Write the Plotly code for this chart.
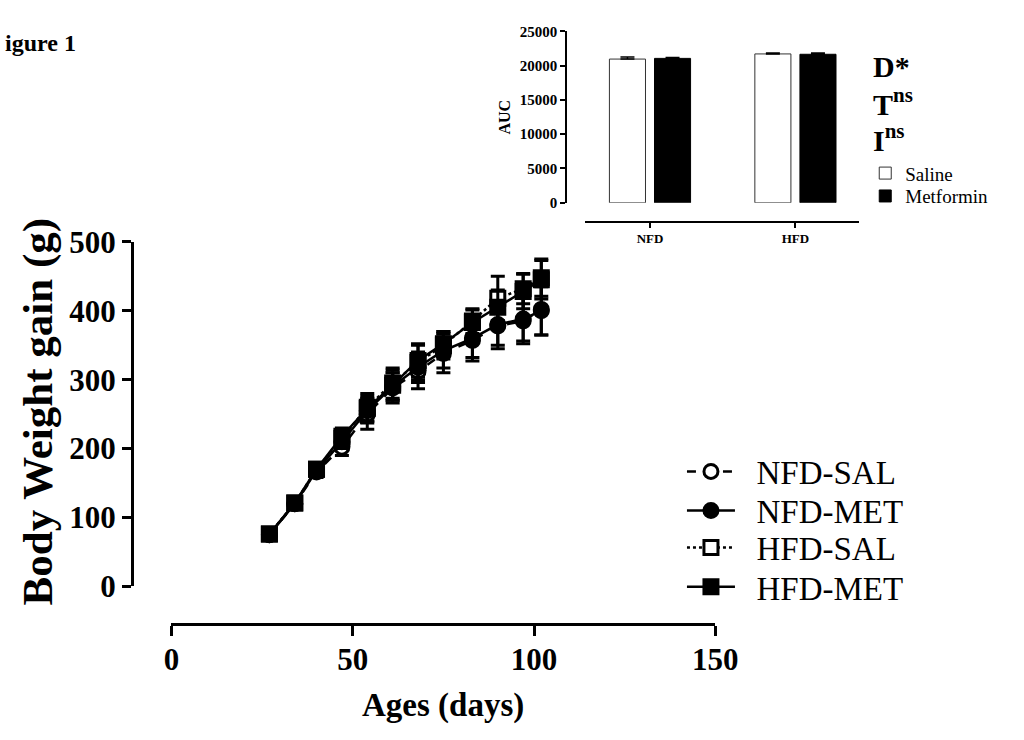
import plotly.graph_objects as go

W, H = 1024, 740
def px(x):
    return x / W
def py(y):
    return 1 - y / H

SERIF = "Liberation Serif, Times New Roman, serif"

# ---------------- data ----------------
ages = [27, 34, 40, 47, 54, 61, 68, 75, 83, 90, 97, 102]
series_names = ["NFD-SAL", "NFD-MET", "HFD-SAL", "HFD-MET"]
nfd_sal = [75, 120, 166, 202, 250, 288, 312, 338, 357, 378, 385, 402]
nfd_sal_err = [4, 5, 8, 12, 22, 22, 25, 28, 30, 33, 33, 37]
nfd_met = [75, 120, 168, 210, 255, 290, 318, 342, 360, 380, 388, 400]
nfd_met_err = [4, 5, 8, 10, 18, 20, 22, 25, 28, 30, 32, 35]
hfd_sal = [76, 121, 170, 215, 260, 295, 325, 350, 385, 418, 432, 448]
hfd_sal_err = [4, 5, 8, 12, 20, 22, 25, 20, 18, 32, 22, 27]
hfd_met = [76, 121, 170, 218, 258, 292, 328, 352, 383, 405, 428, 445]
hfd_met_err = [4, 5, 8, 12, 18, 22, 24, 18, 18, 25, 25, 28]

x_ticks = [0, 50, 100, 150]
y_ticks = [0, 100, 200, 300, 400, 500]

auc_groups = ["NFD", "HFD"]
auc_treatments = ["Saline", "Metformin"]
auc_saline = [20950, 21700]
auc_saline_err = [300, 130]
auc_metformin = [21050, 21650]
auc_metformin_err = [120, 200]
auc_ticks = [0, 5000, 10000, 15000, 20000, 25000]

# ---------------- figure ----------------
fig = go.Figure()

styles = [
    dict(symbol="circle", fill="white", dash="dash"),
    dict(symbol="circle", fill="black", dash="solid"),
    dict(symbol="square", fill="white", dash="dot"),
    dict(symbol="square", fill="black", dash="solid"),
]
values = [nfd_sal, nfd_met, hfd_sal, hfd_met]
errors = [nfd_sal_err, nfd_met_err, hfd_sal_err, hfd_met_err]
main_legends = ["legend", "legend2", "legend3", "legend4"]
main_legend_rows = [477, 518, 557, 598]

NB = "\u00a0\u00a0"
for name, st, v, e, lg in zip(series_names, styles, values, errors, main_legends):
    fig.add_trace(go.Scatter(
        x=ages, y=v, name=NB + name, mode="lines+markers",
        line=dict(color="black", width=2.5, dash=st["dash"]),
        marker=dict(symbol=st["symbol"], size=14, color=st["fill"],
                    line=dict(color="black", width=3)),
        error_y=dict(type="data", array=e, visible=True, color="black",
                     thickness=3, width=7),
        legend=lg, cliponaxis=False,
    ))

fig.add_trace(go.Bar(
    x=auc_groups, y=auc_saline, name=auc_treatments[0],
    marker=dict(color="white", line=dict(color="#333333", width=1)),
    error_y=dict(type="data", array=auc_saline_err, arrayminus=[0, 0],
                 symmetric=False, color="black", thickness=1.5, width=7),
    xaxis="x2", yaxis="y2", legend="legend5",
))
fig.add_trace(go.Bar(
    x=auc_groups, y=auc_metformin, name=auc_treatments[1],
    marker=dict(color="black", line=dict(color="black", width=1)),
    error_y=dict(type="data", array=auc_metformin_err, arrayminus=[0, 0],
                 symmetric=False, color="black", thickness=1.5, width=7),
    xaxis="x2", yaxis="y2", legend="legend6",
))

tickfont_main = dict(family=SERIF, size=31, color="black", weight="bold")
tickfont_inset = dict(family=SERIF, size=15, color="black", weight="bold")

layout = dict(
    width=W, height=H,
    margin=dict(l=0, r=0, t=0, b=0),
    paper_bgcolor="white", plot_bgcolor="white",
    barmode="group", bargap=0.38, bargroupgap=0.2,
    showlegend=True,
    xaxis=dict(
        domain=[px(168.6), px(729.4)], range=[0, 150],
        anchor="free", position=py(637),
        tickvals=x_ticks, ticks="outside", ticklen=10, tickwidth=3,
        tickcolor="black", showline=True, linewidth=3, linecolor="black",
        showgrid=False, zeroline=False, tickfont=tickfont_main,
        ticklabelstandoff=-3,
    ),
    yaxis=dict(
        domain=[py(597.7), py(236)], range=[0, 500],
        anchor="free", position=px(127.7),
        tickvals=y_ticks, ticks="outside", ticklen=9, tickwidth=3,
        tickcolor="black", showline=True, linewidth=3, linecolor="black",
        showgrid=False, zeroline=False, tickfont=tickfont_main,
    ),
    xaxis2=dict(
        domain=[px(595), px(878)], range=[-0.447, 1.44], type="category",
        anchor="free", position=py(215),
        ticks="outside", ticklen=5, tickwidth=2, tickcolor="black",
        showline=True, linewidth=2, linecolor="black",
        showgrid=False, zeroline=False,
        tickfont=dict(family=SERIF, size=13, color="black", weight="bold"),
    ),
    yaxis2=dict(
        domain=[py(195), py(15)], range=[0, 25000],
        anchor="free", position=px(575.7),
        tickvals=auc_ticks, tickformat="d", ticks="outside", ticklen=5,
        tickwidth=2, tickcolor="black", showline=True, linewidth=2,
        linecolor="black", showgrid=False, zeroline=False,
        tickfont=tickfont_inset,
    ),
)

for lg, yrow in zip(main_legends, main_legend_rows):
    layout[lg] = dict(
        x=px(695), y=py(yrow), xanchor="left", yanchor="middle",
        font=dict(family=SERIF, size=33, color="black"),
        bgcolor="rgba(0,0,0,0)", itemwidth=48,
    )
for lg, yrow in zip(["legend5", "legend6"], [164, 188]):
    layout[lg] = dict(
        x=px(884), y=py(yrow), xanchor="left", yanchor="middle",
        font=dict(family=SERIF, size=19, color="black"),
        bgcolor="rgba(0,0,0,0)",
    )
fig.update_layout(**layout)

annotations = [
    dict(text="igure 1", x=px(0), y=py(27), xanchor="left", yanchor="middle",
         xshift=-5,
         font=dict(family=SERIF, size=24, color="black", weight="bold")),
    dict(text="Body Weight gain (g)", x=px(31), y=py(415), textangle=-90,
         xanchor="center", yanchor="middle",
         font=dict(family=SERIF, size=43, color="black", weight="bold")),
    dict(text="Ages (days)", x=px(449), y=py(723), xanchor="center", yanchor="middle",
         font=dict(family=SERIF, size=33, color="black", weight="bold")),
    dict(text="AUC", x=px(512), y=py(105), textangle=-90,
         xanchor="center", yanchor="middle",
         font=dict(family=SERIF, size=16, color="black", weight="bold")),
    dict(text="D*", x=px(890), y=py(52), xanchor="left", yanchor="middle",
         font=dict(family=SERIF, size=30, color="black", weight="bold")),
    dict(text="T<sup>ns</sup>", x=px(890), y=py(89), xanchor="left", yanchor="middle",
         font=dict(family=SERIF, size=30, color="black", weight="bold")),
    dict(text="I<sup>ns</sup>", x=px(890), y=py(127), xanchor="left", yanchor="middle",
         font=dict(family=SERIF, size=30, color="black", weight="bold")),
]
for a in annotations:
    a.update(xref="paper", yref="paper", showarrow=False)
fig.update_layout(annotations=annotations)

fig.write_html("out.html", config={"displayModeBar": False},
               post_script="document.body.style.margin='0';document.body.style.overflow='hidden';")
